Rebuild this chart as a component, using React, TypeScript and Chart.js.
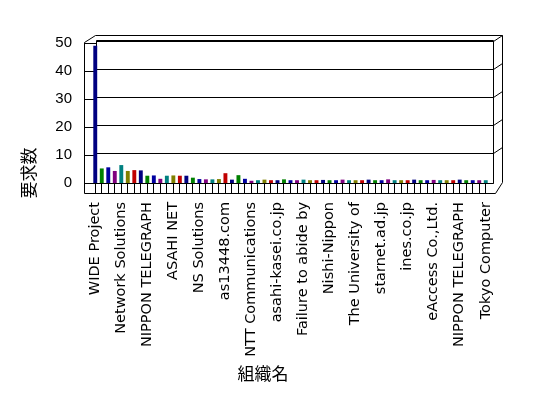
import { useEffect, useRef } from "react";
import { Chart, registerables } from "chart.js";

Chart.register(...registerables);

// Organisation names printed on the axis (every 4th category is labelled)
const shownLabels = [
  "WIDE Project",
  "Network Solutions",
  "NIPPON TELEGRAPH",
  "ASAHI NET",
  "NS Solutions",
  "as13448.com",
  "NTT Communications",
  "asahi-kasei.co.jp",
  "Failure to abide by",
  "Nishi-Nippon",
  "The University of",
  "starnet.ad.jp",
  "ines.co.jp",
  "eAccess Co.,Ltd.",
  "NIPPON TELEGRAPH",
  "Tokyo Computer",
];
const labelEvery = 4;

// 要求数 per organisation (61 categories)
const requestCounts = [
  49, 5.2, 5.6, 4.3, 6.4, 4.3, 4.6, 4.5, 2.6, 2.7,
  1.5, 2.6, 2.7, 2.6, 2.6, 1.9, 1.4, 1.3, 1.3, 1.4,
  3.5, 1.2, 2.8, 1.5, 0.8, 1, 1.2, 1, 1, 1.3,
  1, 1, 1.2, 1, 1, 1.1, 1, 1, 1.2, 1,
  1, 1, 1.2, 1, 1, 1.3, 1, 1, 1, 1.2,
  1, 1, 1.1, 1, 1, 1, 1.2, 1, 1, 1,
  1,
];

const yTicks = [0, 10, 20, 30, 40, 50];

const categories = requestCounts.map((_, i) =>
  i % labelEvery === 0 ? shownLabels[i / labelEvery] ?? "" : ""
);

const palette = ["#000080", "#008000", "#0000A0", "#800080", "#008080", "#808000", "#C00000"];

const FONT = "'Liberation Sans', Arial, sans-serif";
const XFONT = "'DejaVu Sans', sans-serif";
const CJK = "'Noto Sans CJK JP', sans-serif";

const box3d = {
  id: "box3d",
  beforeDatasetsDraw(chart: any) {
    const { ctx, chartArea: a, scales } = chart;
    const ys = scales.y;
    const bL = Math.round(a.left + 4);
    const bR = Math.round(a.right + 4);
    const bT = Math.round(a.top - 3);
    const bB = Math.round(a.bottom);
    const fL = Math.round(a.left - 8);
    const fR = Math.round(a.right + 13);
    const fB = Math.round(a.bottom + 10);
    const oT = Math.round(a.top - 8);
    ctx.save();
    ctx.strokeStyle = "#000";
    ctx.lineWidth = 1;
    const line = (pts: number[][]) => {
      ctx.beginPath();
      ctx.moveTo(pts[0][0] + 0.5, pts[0][1] + 0.5);
      for (let i = 1; i < pts.length; i++) ctx.lineTo(pts[i][0] + 0.5, pts[i][1] + 0.5);
      ctx.stroke();
    };
    // back wall
    line([[bL, bT], [bR, bT], [bR, bB], [bL, bB], [bL, bT]]);
    // outer frame
    line([[fL, oT + 7], [fL, fB], [bR + 2, fB], [fR, bB - 1], [fR, oT], [bL - 1, oT], [fL, oT + 7]]);
    // floor front face top
    line([[fL, bB], [bR, bB]]);
    // gridlines
    yTicks.forEach((v) => {
      if (v === 0) return;
      const py = Math.round(ys.getPixelForValue(v));
      line([[fL, py], [bL, py]]);
      line([[bL, py - 2], [bR, py - 2]]);
      line([[bR, py - 2], [fR, py - 8]]);
    });
    ctx.restore();
  },
  afterDraw(chart: any) {
    const { ctx } = chart;
    ctx.save();
    ctx.fillStyle = "#000";
    ctx.font = `17px ${CJK}`;
    ctx.textAlign = "center";
    ctx.textBaseline = "middle";
    ctx.fillText("組織名", 263, 374);
    ctx.translate(29, 173);
    ctx.rotate(-Math.PI / 2);
    ctx.fillText("要求数", 0, 0);
    ctx.restore();
  },
};

export default function App() {
  const ref = useRef<HTMLCanvasElement | null>(null);

  useEffect(() => {
    document.body.style.margin = "0";
    const canvas = ref.current!;
    const chart = new Chart(canvas, {
      type: "bar",
      data: {
        labels: categories,
        datasets: [
          {
            label: "要求数",
            data: requestCounts,
            backgroundColor: requestCounts.map((_, i) => palette[i % palette.length]),
            borderWidth: 0,
            barPercentage: 0.6,
            categoryPercentage: 1,
          },
        ],
      },
      options: {
        responsive: false,
        animation: false,
        devicePixelRatio: 1,
        layout: { padding: { top: 43, right: 59, left: 0, bottom: 0 } },
        plugins: {
          legend: { display: false },
          tooltip: { enabled: false },
          title: { display: false },
        },
        scales: {
          x: {
            offset: true,
            grid: {
              display: true,
              drawOnChartArea: false,
              drawTicks: true,
              tickLength: 10,
              offset: false,
              color: "#000",
            },
            border: { display: false },
            ticks: {
              autoSkip: false,
              minRotation: 90,
              maxRotation: 90,
              padding: 9,
              color: "#000",
              font: { family: XFONT, size: 14.5 },
              callback: (_v: any, i: number) => categories[i],
            },
            afterFit: (s: any) => {
              s.height = 215;
            },
          },
          y: {
            min: 0,
            max: 50,
            grid: { display: false },
            border: { display: false },
            ticks: {
              stepSize: 10,
              padding: 12,
              color: "#000",
              font: { family: FONT, size: 15 },
            },
            afterFit: (s: any) => {
              s.width = 92;
            },
          },
        },
      },
      plugins: [box3d],
    });
    return () => chart.destroy();
  }, []);

  return <canvas ref={ref} width={548} height={398} style={{ display: "block" }} />;
}
